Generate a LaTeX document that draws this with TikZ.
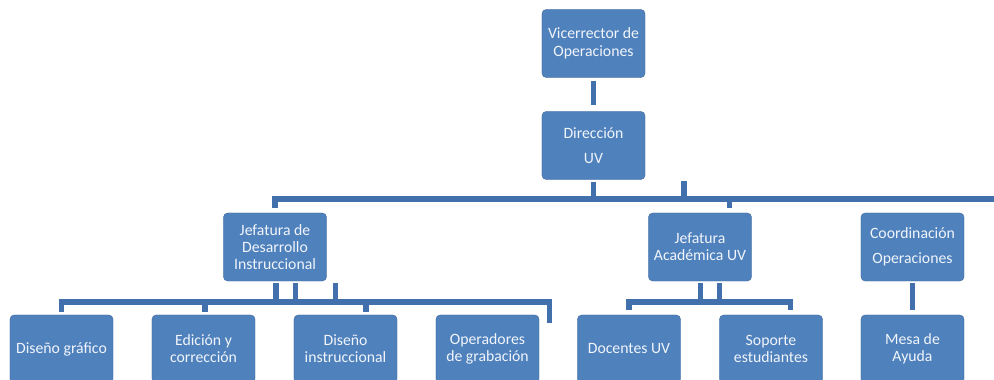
\documentclass[tikz,border=0pt]{standalone}
\usepackage{fontspec}
\setmainfont{Carlito}
\usetikzlibrary{positioning, calc}
\definecolor{uvblue}{RGB}{79,129,189}
\definecolor{uvline}{RGB}{66,112,172}

\begin{document}
\begin{tikzpicture}[x=0.025cm, y=-0.025cm,
        box/.style={draw=uvblue!80!black, line width=0.3pt, rounded corners=3pt, fill=uvblue, text=white!92!uvblue, minimum width=2.575cm, minimum height=1.7cm, align=center, inner sep=1pt},
        every node/.style={font=\fontsize{11.2}{12.2}\selectfont},
        link/.style={draw=uvline, line width=3.6pt}
    ]
    \useasboundingbox (0,0) rectangle (994,380);
    \clip (0,0) rectangle (994,380);

    % Top of the chart
    \node[box] (vic) at (593.5,43.5) {Vicerrector de\\[1pt]Operaciones};
    \node[box] (dir) at (593.5,145.5) {Dirección\\[5.6pt]UV};

    % Jefaturas
    \node[box] (jdi) at (275,247) {Jefatura de\\Desarrollo\\Instruccional};
    \node[box] (jac) at (700,247) {Jefatura\\Académica UV};
    \node[box] (coo) at (912.5,247) {Coordinación\\[5.6pt]Operaciones};

    % Bottom row (cut at the page edge)
    \foreach \name/\x/\txt in {dgr/61.5/{Diseño gráfico}, edi/203.5/{Edición y\\corrección},
                               din/345.5/{Diseño\\instruccional}, ope/487.5/{Operadores\\de grabación},
                               doc/629/{Docentes UV}, sop/771/{Soporte\\estudiantes}, mes/912.5/{Mesa de\\Ayuda}}
        \node[box] (\name) at (\x,349) {\txt};

    % Vicerrector -> Direccion
    \draw[link, shorten <=2.1pt, shorten >=4.3pt] (vic) -- (dir);

    % Bar under Direccion
    \coordinate (barL) at (275.5,199);
    \coordinate (barR) at (994,199);
    \coordinate (stub) at (684,181);
    \draw[link, shorten <=3.5pt] (jdi.north) |- (barR);
    \draw[link, shorten <=1.4pt] (dir.south) -- (dir.south |- barL);
    \draw[link] (stub) -- (stub |- barL);
    \draw[link, shorten <=3.5pt] ([xshift=0.74cm]jac.north) -- ([xshift=0.74cm]jac.north |- barL);

    % Bus under Desarrollo Instruccional
    \coordinate (busL) at (61.5,302);
    \coordinate (busEnd) at (549.5,323);
    \foreach \dx in {1, 20.5, 60.5}
        \draw[link, shorten <=1.4pt] ([xshift=\dx*0.025cm]jdi.south) -- ([xshift=\dx*0.025cm]jdi.south |- busL);
    \draw[link, shorten <=2.1pt] (dgr.north) -- (dgr.north |- busL) -- (busL -| busEnd) -- (busEnd);
    \foreach \n/\dx in {edi/1.5, din/20.5}
        \draw[link, shorten >=2.1pt] ([xshift=\dx*0.025cm]\n.north |- busL) -- ([xshift=\dx*0.025cm]\n.north);

    % Bus under Academica
    \coordinate (busA) at (629.5,302);
    \coordinate (sopIn) at (790.5,310);
    \foreach \dx in {0.5, 19.5}
        \draw[link, shorten <=1.4pt] ([xshift=\dx*0.025cm]jac.south) -- ([xshift=\dx*0.025cm]jac.south |- busA);
    \draw[link, shorten <=3.5pt] (doc.north) |- (sopIn |- busA) -- (sopIn);

    % Coordinacion -> Mesa de Ayuda
    \draw[link, shorten <=1.4pt, shorten >=3.5pt] (coo) -- (mes);

\end{tikzpicture}
\end{document}
